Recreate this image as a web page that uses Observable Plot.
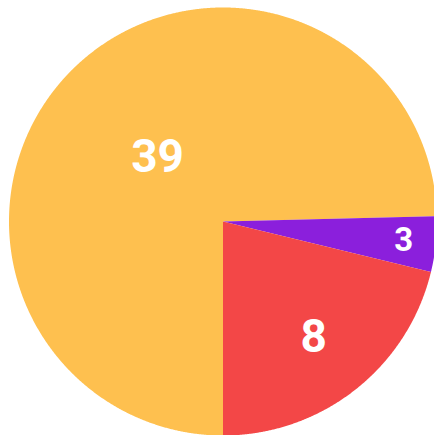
<!DOCTYPE html>
<html>
<head>
<meta charset="utf-8">
<script src="https://cdn.jsdelivr.net/npm/d3@7"></script>
<script src="https://cdn.jsdelivr.net/npm/@observablehq/plot@0.6"></script>
<style>
  html, body { margin: 0; padding: 0; background: #ffffff; overflow: hidden; }
</style>
</head>
<body>
<div id="chart"></div>
<script>
// Slices in clockwise order starting at 6 o'clock
const labels = [39, 3, 8];
// Share of the circle (percent)
const shares = [74.6, 4.2, 21.2];
const colors = ["#FEC04F", "#8B1FDC", "#F34747"];

const data = labels.map((label, i) => ({label, share: shares[i], color: colors[i]}));

const pie = d3.pie().value(d => d.share).sort(null)
  .startAngle(Math.PI).endAngle(3 * Math.PI);
const arcs = pie(data);

function ringPoints(a0, a1, r) {
  const n = Math.max(2, Math.ceil(Math.abs(a1 - a0) / 0.004));
  const pts = [];
  for (let k = 0; k <= n; k++) {
    const t = a0 + (a1 - a0) * k / n;
    pts.push([r * Math.sin(t), -r * Math.cos(t)]);
  }
  return pts;
}

const wedges = arcs.map(a => ({
  type: "Feature",
  properties: a.data,
  geometry: {type: "Polygon", coordinates: [[[0, 0], ...ringPoints(a.startAngle, a.endAngle, 1), [0, 0]]]}
}));

const outline = {type: "Polygon", coordinates: [ringPoints(0, 2 * Math.PI, 1)]};

// Labels sit on each slice's bisector; narrower slices push the label outward
const labelPts = arcs.map(a => {
  const mid = (a.startAngle + a.endAngle) / 2;
  const frac = (a.endAngle - a.startAngle) / (2 * Math.PI);
  const rr = 0.98 - 0.64 * Math.sqrt(frac);
  return {x: rr * Math.sin(mid), y: -rr * Math.cos(mid), text: String(a.data.label), frac};
});

const chart = Plot.plot({
  width: 434,
  height: 435,
  marginLeft: 8.5,
  marginTop: 7,
  marginRight: -2.5,
  marginBottom: 0,
  style: {background: "transparent", overflow: "visible"},
  projection: {type: "identity", domain: outline},
  color: {type: "identity"},
  marks: [
    Plot.geo(wedges, {fill: d => d.properties.color, stroke: "none"}),
    Plot.text(labelPts, {
      x: "x", y: "y", text: "text",
      fill: "#ffffff",
      fontFamily: "Roboto, 'Open Sans', sans-serif",
      fontWeight: "bold",
      fontSize: d => d.frac < 0.1 ? 33 : 46,
      textAnchor: "middle",
      lineAnchor: "middle"
    })
  ]
});
document.getElementById("chart").appendChild(chart);
</script>
</body>
</html>
